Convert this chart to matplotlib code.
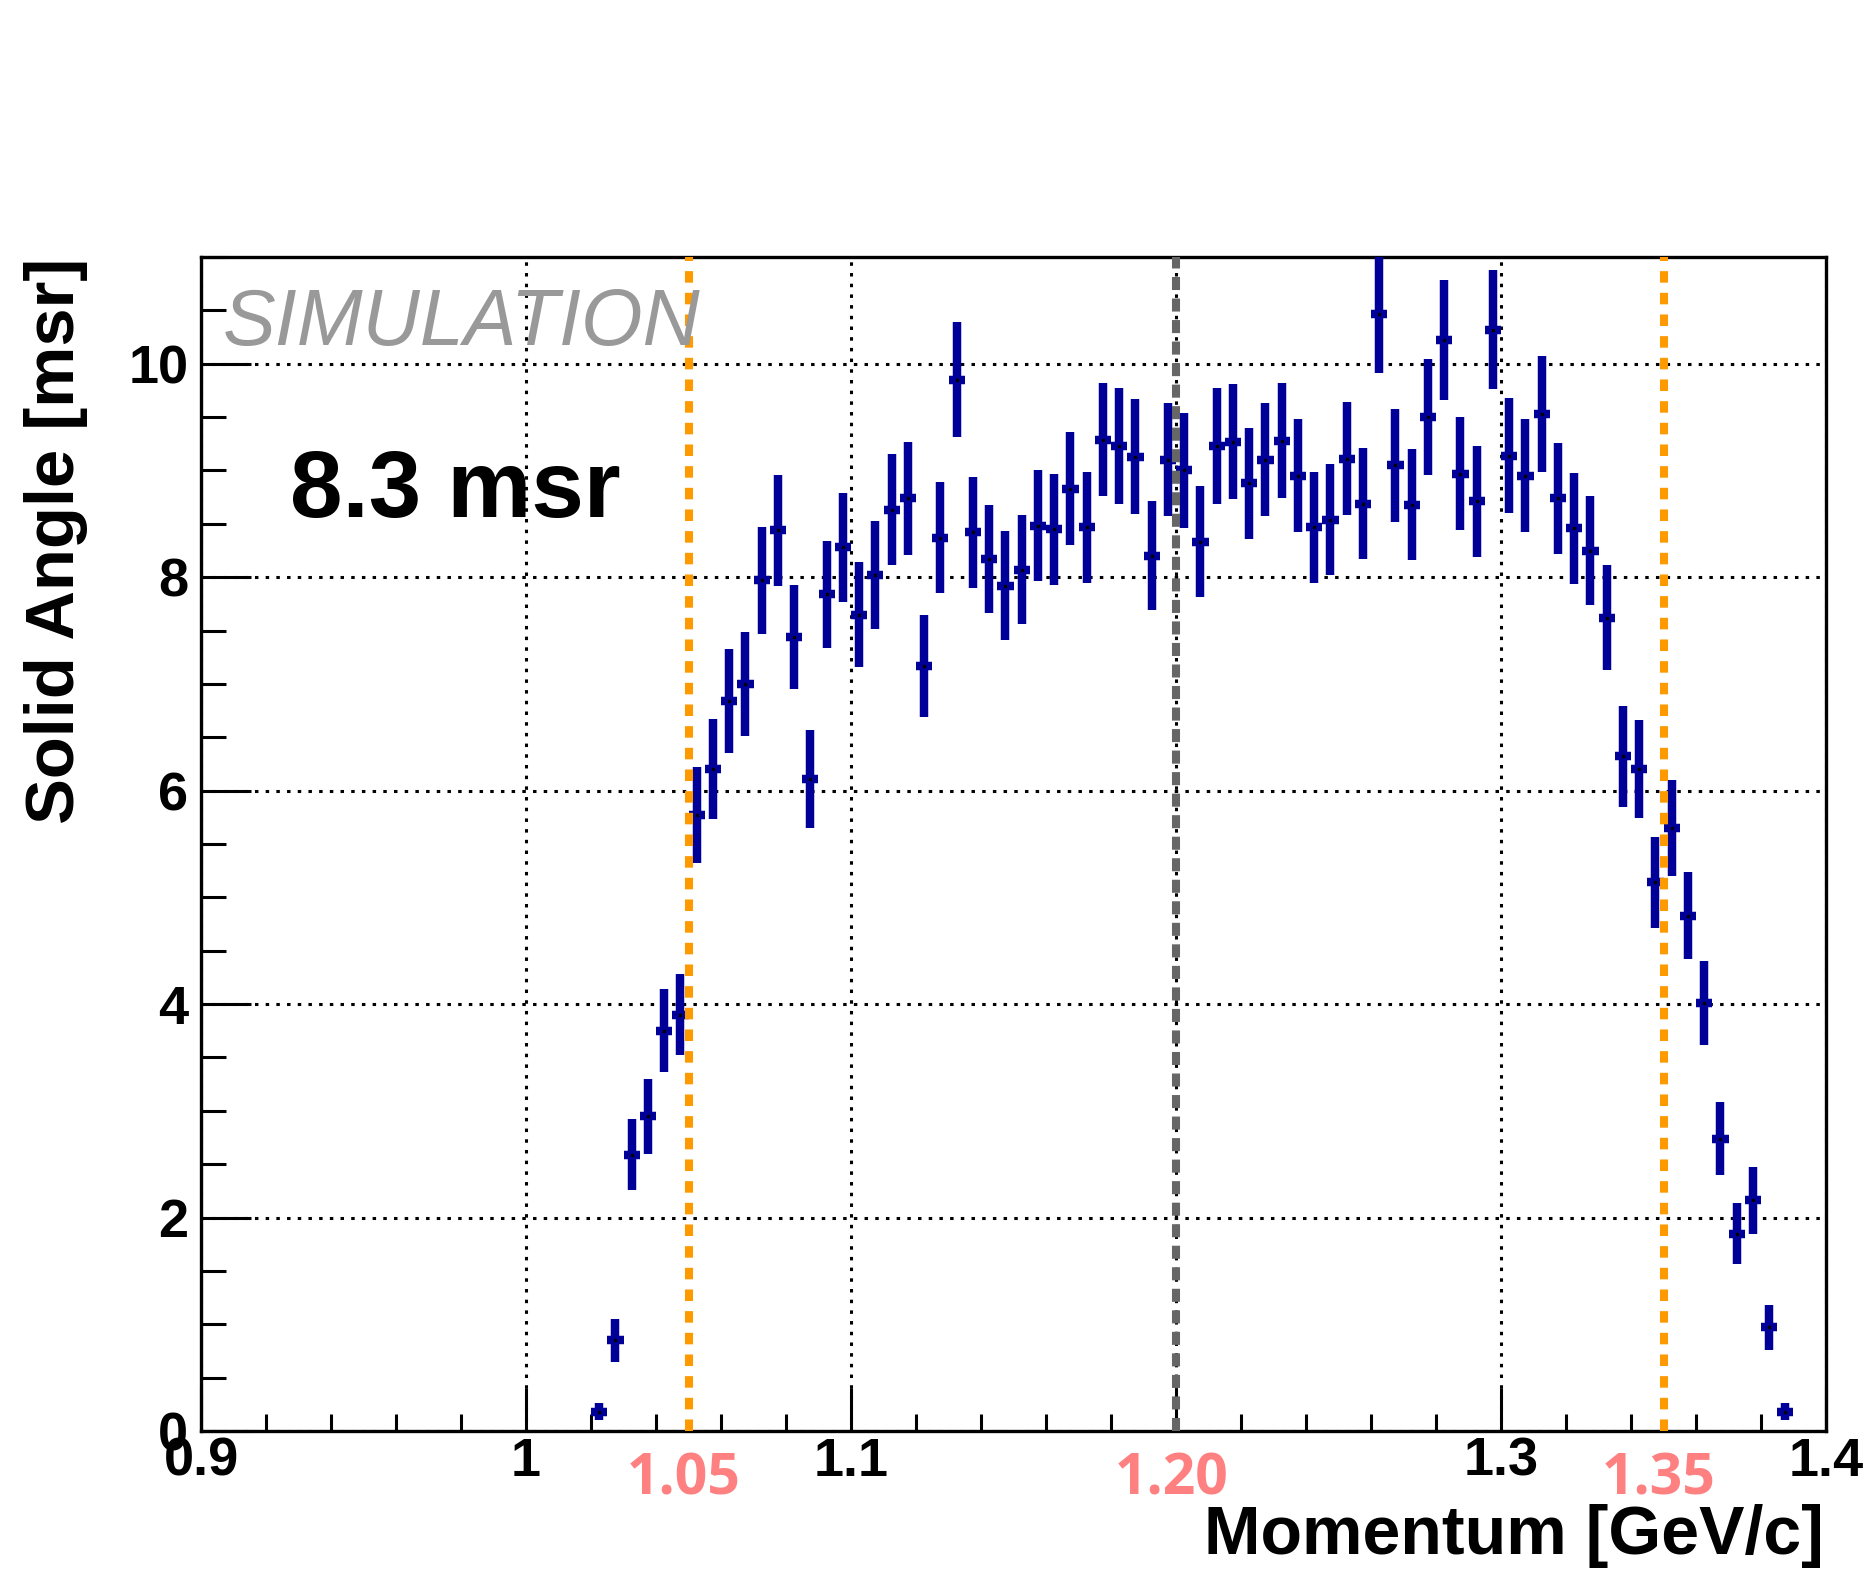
import matplotlib
matplotlib.use('Agg')
import matplotlib.pyplot as plt
from matplotlib.ticker import MultipleLocator
import numpy as np

plt.rcParams['lines.scale_dashes'] = False
plt.rcParams['font.family'] = ['Liberation Sans', 'DejaVu Sans']
plt.rcParams['font.weight'] = 'bold'

# histogram: 5 MeV bins starting at 1.02 GeV/c
bin_lo = 1.02
bin_w = 0.005
solid_angle = [0.18, 0.85, 2.59, 2.95, 3.75, 3.90, 5.77, 6.20, 6.84, 7.00,
               7.97, 8.44, 7.44, 6.11, 7.84, 8.28, 7.65, 8.02, 8.63, 8.74,
               7.17, 8.37, 9.85, 8.42, 8.17, 7.92, 8.07, 8.48, 8.45, 8.83,
               8.47, 9.29, 9.23, 9.13, 8.20, 9.10, 9.00, 8.33, 9.23, 9.27,
               8.88, 9.10, 9.28, 8.95, 8.47, 8.54, 9.11, 8.69, 10.47, 9.05,
               8.68, 9.50, 10.22, 8.97, 8.71, 10.32, 9.14, 8.95, 9.53, 8.74,
               8.46, 8.25, 7.62, 6.32, 6.20, 5.14, 5.65, 4.83, 4.01, 2.74,
               1.85, 2.16, 0.97, 0.18]
solid_angle_err = [0.08, 0.20, 0.33, 0.35, 0.39, 0.38, 0.45, 0.47, 0.49, 0.49,
                   0.50, 0.52, 0.49, 0.46, 0.50, 0.51, 0.49, 0.51, 0.52, 0.53,
                   0.48, 0.52, 0.54, 0.52, 0.51, 0.51, 0.51, 0.52, 0.52, 0.53,
                   0.52, 0.53, 0.54, 0.54, 0.51, 0.53, 0.54, 0.52, 0.54, 0.54,
                   0.52, 0.53, 0.54, 0.53, 0.52, 0.52, 0.53, 0.52, 0.56, 0.53,
                   0.52, 0.54, 0.56, 0.53, 0.52, 0.56, 0.54, 0.53, 0.54, 0.52,
                   0.52, 0.51, 0.49, 0.47, 0.46, 0.43, 0.45, 0.41, 0.39, 0.34,
                   0.285, 0.31, 0.21, 0.08]
momentum = bin_lo + bin_w * (np.arange(len(solid_angle)) + 0.5)

x_ticks = [0.9, 1.0, 1.1, 1.2, 1.3, 1.4]
x_ticklabels = ['0.9', '1', '1.1', '', '1.3', '1.4']
y_ticks = [0, 2, 4, 6, 8, 10]
cut_lines = [1.05, 1.35]
central_line = 1.20
marked_labels = [(1.05, '1.05'), (1.20, '1.20'), (1.35, '1.35')]

W, H = 1874, 1573
def fx(px):
    return px / W
def fy(py):
    return 1 - py / H

fig = plt.figure(figsize=(W / 100, H / 100), dpi=100)
ax = fig.add_axes([fx(201), fy(1431), (1826 - 201) / W, (1431 - 257) / H])

ax.errorbar(momentum, solid_angle, yerr=solid_angle_err, xerr=bin_w / 2,
            fmt='none', ecolor='#000099', elinewidth=6.1, capsize=0, zorder=3)
ax.plot(momentum, solid_angle, 's', ms=1.5, color='black', zorder=4)

for xc in cut_lines:
    ax.axvline(xc, color='#ff9900', lw=5.8, dashes=(8.3, 7.3), zorder=5)
ax.axvline(central_line, color='#666666', lw=5.8, dashes=(9.4, 6.1), zorder=5)

ax.set_xlim(0.9, 1.4)
ax.set_ylim(0, 11)
ax.set_xticks(x_ticks)
ax.set_xticklabels(x_ticklabels)
ax.set_yticks(y_ticks)
ax.xaxis.set_minor_locator(MultipleLocator(0.02))
ax.yaxis.set_minor_locator(MultipleLocator(0.5))
ax.grid(True, which='major', color='black', lw=2.2, linestyle=(0, (2.5, 5.2)))
ax.set_axisbelow(True)

ax.tick_params(axis='both', which='both', direction='in', top=False, right=False,
               width=2.2, labelsize=39)
ax.tick_params(axis='x', which='major', length=31, pad=4)
ax.tick_params(axis='x', which='minor', length=12)
ax.tick_params(axis='y', which='major', length=36, pad=9)
ax.tick_params(axis='y', which='minor', length=18)
for sp in ax.spines.values():
    sp.set_linewidth(2.4)

# pink labels sit a hair left of their lines in the original
for xv, txt in marked_labels:
    ax.text(xv - 0.0015, -0.041, txt, transform=ax.get_xaxis_transform(),
            ha='center', va='center', color='#ff8080', fontsize=41,
            family='Open Sans', weight='bold')

fig.text(fx(223), fy(345), 'SIMULATION', color='#999999', style='italic',
         weight='normal', fontsize=57, va='baseline', ha='left')
fig.text(fx(290), fy(517), '8.3 msr', fontsize=68, weight='bold', va='baseline')
fig.text(fx(1824), fy(1554), 'Momentum [GeV/c]', fontsize=49, weight='bold',
         ha='right', va='baseline')
fig.text(fx(56), fy(258), 'Solid Angle [msr]', rotation=90, fontsize=49.5,
         weight='bold', ha='center', va='top')

fig.savefig('out.png', dpi=100)
